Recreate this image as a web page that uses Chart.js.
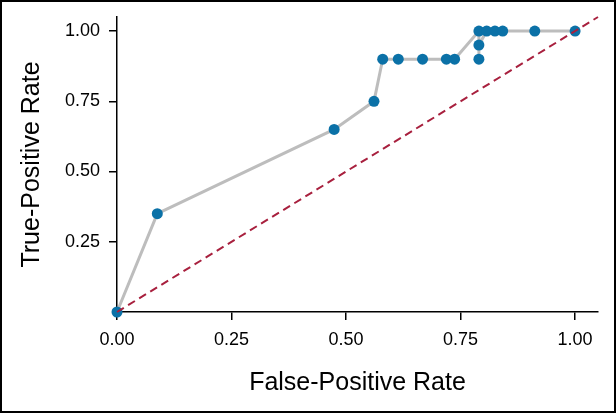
<!DOCTYPE html>
<html>
<head>
<meta charset="utf-8">
<script src="https://cdn.jsdelivr.net/npm/chart.js@4/dist/chart.umd.min.js"></script>
<style>
  html, body { margin: 0; padding: 0; background: #fff; }
</style>
</head>
<body>
<canvas id="rocChart" width="616" height="413"></canvas>
<script>
// ROC points
const fpr = [0, 0.088, 0.474, 0.561, 0.580, 0.614, 0.667, 0.719, 0.737, 0.790, 0.790, 0.790, 0.807, 0.825, 0.842, 0.912, 1.0];
const tpr = [0, 0.35, 0.65, 0.75, 0.90, 0.90, 0.90, 0.90, 0.90, 1.0, 0.90, 0.95, 1.0, 1.0, 1.0, 1.0, 1.0];

// reference diagonal
const chanceX = [0, 1.05];
const chanceY = [0, 1.05];

const xTicks = [0, 0.25, 0.5, 0.75, 1.0];
const yTicks = [0.25, 0.5, 0.75, 1.0];

const FONT = "'Liberation Sans', Arial, sans-serif";

const frame = {
  id: 'frame',
  beforeDraw(chart) {
    const c = chart.ctx;
    c.save();
    c.fillStyle = '#fff';
    c.fillRect(0, 0, chart.width, chart.height);
    c.restore();
  },
  afterDraw(chart) {
    const c = chart.ctx;
    c.save();
    c.strokeStyle = '#000';
    c.lineWidth = 2;
    c.strokeRect(1, 1, chart.width - 2, chart.height - 2);
    c.restore();
  }
};

const ctx = document.getElementById('rocChart').getContext('2d');
new Chart(ctx, {
  type: 'scatter',
  data: {
    datasets: [
      {
        label: 'ROC',
        data: fpr.map((x, i) => ({ x: x, y: tpr[i] })),
        showLine: true,
        borderColor: '#bdbdbd',
        borderWidth: 3,
        pointRadius: 5.5,
        pointBackgroundColor: '#0b71a7',
        pointBorderWidth: 0,
        clip: false,
        order: 1,
      },
      {
        label: 'Chance',
        data: chanceX.map((x, i) => ({ x: x, y: chanceY[i] })),
        showLine: true,
        borderColor: '#a8203e',
        borderWidth: 2,
        borderDash: [8, 5],
        pointRadius: 0,
        clip: false,
        order: 0,
      },
    ],
  },
  options: {
    responsive: false,
    animation: false,
    layout: { padding: { left: 0, top: 17, right: 18, bottom: 0 } },
    plugins: {
      legend: { display: false },
      tooltip: { enabled: false },
    },
    scales: {
      x: {
        type: 'linear',
        min: 0,
        max: 1.05,
        afterBuildTicks: (s) => { s.ticks = xTicks.map(v => ({ value: v })); },
        afterFit: (s) => { s.height = 101; s.paddingLeft = 0; s.paddingRight = 0; },
        border: { display: true, color: '#000', width: 1.5 },
        grid: { drawOnChartArea: false, drawTicks: true, tickLength: 8, color: '#000', lineWidth: 1.5 },
        ticks: {
          color: '#000',
          padding: 9,
          maxRotation: 0,
          font: { family: FONT, size: 18 },
          callback: (v) => v.toFixed(2),
        },
        title: {
          display: true,
          text: 'False-Positive Rate',
          color: '#000',
          font: { family: FONT, size: 25 },
          padding: { top: 0, bottom: 15 },
        },
      },
      y: {
        type: 'linear',
        min: 0,
        max: 1.05,
        afterBuildTicks: (s) => { s.ticks = yTicks.map(v => ({ value: v })); },
        afterFit: (s) => { s.width = 117; s.paddingTop = 0; s.paddingBottom = 0; },
        border: { display: true, color: '#000', width: 1.5 },
        grid: { drawOnChartArea: false, drawTicks: true, tickLength: 8, color: '#000', lineWidth: 1.5 },
        ticks: {
          color: '#000',
          padding: 9,
          font: { family: FONT, size: 18 },
          callback: (v) => v.toFixed(2),
        },
        title: {
          display: true,
          text: 'True-Positive Rate',
          color: '#000',
          font: { family: FONT, size: 25 },
          padding: { top: 17, bottom: 0 },
        },
      },
    },
  },
  plugins: [frame],
});
</script>
</body>
</html>
